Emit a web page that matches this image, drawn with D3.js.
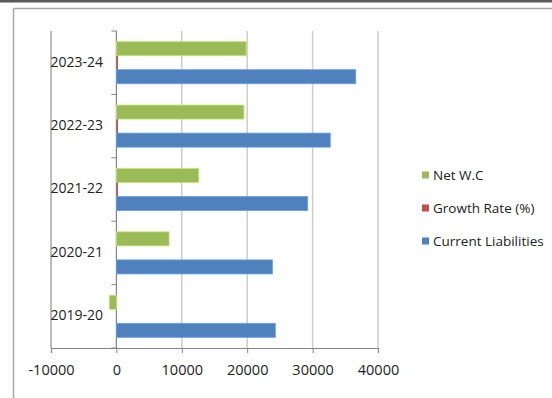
<!DOCTYPE html>
<html><head><meta charset="utf-8">
<script src="https://cdn.jsdelivr.net/npm/d3@7"></script>
<style>body{margin:0;background:#fff}svg{display:block}text{font-family:"Open Sans",sans-serif;fill:#222}</style>
</head><body>
<svg id="c" width="552" height="398"></svg>
<script>
const categories = ["2019-20","2020-21","2021-22","2022-23","2023-24"];
const seriesNames = ["Current Liabilities","Growth Rate (%)","Net W.C"];
const currentLiabilities = [24300, 23850, 29250, 32700, 36600];
const growthRate = [0, -2, 22.6, 11.8, 11.9];
const netWC = [-1050, 8050, 12600, 19500, 19850];
const xTicks = [-10000, 0, 10000, 20000, 30000, 40000];
const colors = {"Current Liabilities":"#4F81BD","Growth Rate (%)":"#C0504D","Net W.C":"#9BBB59"};

const svg = d3.select("#c");
// frame
svg.append("rect").attr("x",0).attr("y",0).attr("width",552).attr("height",2.5).attr("fill","#5a5a5a");
svg.append("line").attr("x1",13.5).attr("x2",552).attr("y1",8.5).attr("y2",8.5).attr("stroke","#a6a6a6").attr("stroke-width",1.5);
svg.append("line").attr("x1",13.5).attr("x2",13.5).attr("y1",8.5).attr("y2",398).attr("stroke","#a6a6a6").attr("stroke-width",1.5);

const x = d3.scaleLinear().domain([-10000,40000]).range([51,378]);
const y = d3.scaleBand().domain(categories.slice().reverse()).range([31,348]);
const inner = d3.scaleBand().domain(["Net W.C","Growth Rate (%)","Current Liabilities"]).range([0,y.bandwidth()]).paddingOuter(0.76);

// gridlines
svg.append("g").selectAll("line").data(xTicks.filter(t=>t!==0)).join("line")
  .attr("x1",d=>x(d)).attr("x2",d=>x(d)).attr("y1",31).attr("y2",348)
  .attr("stroke","#cdcdcd").attr("stroke-width",1.5);

// left vertical line at -10000
svg.append("line").attr("x1",x(-10000)).attr("x2",x(-10000)).attr("y1",31).attr("y2",348).attr("stroke","#a8a8a8").attr("stroke-width",1.2);

// category axis at zero
const boundaries = y.domain().map(c=>y(c)).concat([348]);
svg.append("line").attr("x1",x(0)).attr("x2",x(0)).attr("y1",31).attr("y2",348).attr("stroke","#868686").attr("stroke-width",1.2);
svg.append("g").selectAll("line").data(boundaries).join("line")
  .attr("x1",x(0)-5).attr("x2",x(0)).attr("y1",d=>d).attr("y2",d=>d).attr("stroke","#868686");

const rows = categories.map((c,i)=>({cat:c, "Current Liabilities":currentLiabilities[i], "Growth Rate (%)":growthRate[i], "Net W.C":netWC[i]}));
const bars = [];
rows.forEach(r=>seriesNames.forEach(s=>bars.push({cat:r.cat, s, v:r[s]})));
svg.append("g").selectAll("rect").data(bars.filter(b=>b.s!=="Growth Rate (%)")).join("rect")
  .attr("x",d=>Math.min(x(0),x(d.v)))
  .attr("width",d=>Math.abs(x(d.v)-x(0)))
  .attr("y",d=>y(d.cat)+inner(d.s))
  .attr("height",inner.bandwidth())
  .attr("fill",d=>colors[d.s])
  .attr("stroke",d=>d3.color(colors[d.s]).brighter(0.6))
  .attr("stroke-width",0.8);
// growth rate (tiny on this scale; drawn with a hairline minimum)
svg.append("g").selectAll("rect").data(bars.filter(b=>b.s==="Growth Rate (%)" && b.v>0)).join("rect")
  .attr("x",x(0)+0.4)
  .attr("width",d=>Math.max(1.2,Math.abs(x(d.v)-x(0))))
  .attr("y",d=>y(d.cat)+inner(d.s))
  .attr("height",inner.bandwidth())
  .attr("fill",d=>colors[d.s]);

// x axis
const xAxis = d3.axisBottom(x).tickValues(xTicks).tickSize(5).tickFormat(d=>String(d));
const gx = svg.append("g").attr("transform","translate(0,348)").call(xAxis);
gx.select(".domain").attr("stroke","#868686").attr("stroke-width",1.2);
gx.selectAll(".tick line").attr("stroke","#868686");
gx.selectAll(".tick text").attr("font-size",14.5).attr("dy","1.3em").attr("fill","#222").style("font-family","'Open Sans',sans-serif");

svg.append("g").selectAll("text").data(categories).join("text")
  .attr("x",103).attr("y",d=>y(d)+y.bandwidth()/2 - 1).attr("dy","0.35em")
  .attr("text-anchor","end").attr("font-size",14).text(d=>d);

// legend
const legendItems = ["Net W.C","Growth Rate (%)","Current Liabilities"];
const lg = svg.append("g").selectAll("g").data(legendItems).join("g")
  .attr("transform",(d,i)=>`translate(422,${175+i*33})`);
lg.append("rect").attr("x",0).attr("y",-3.5).attr("width",7).attr("height",7).attr("fill",d=>colors[d]);
lg.append("text").attr("x",11).attr("y",0).attr("dy","0.35em").attr("font-size",13.5).text(d=>d);
</script>
</body></html>
